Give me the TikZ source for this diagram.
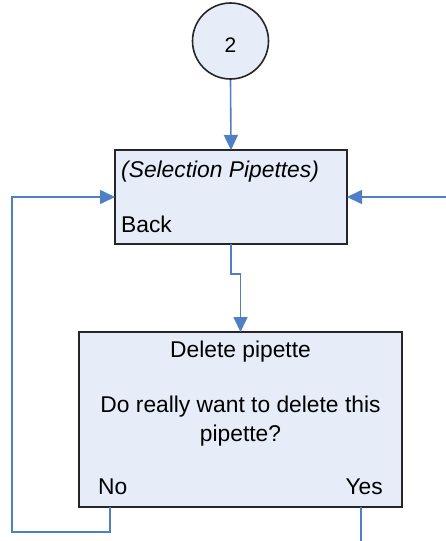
\documentclass[tikz,border=0pt]{standalone}
\usepackage{fontspec}
\setmainfont{Liberation Sans}
\usetikzlibrary{arrows.meta}
\definecolor{boxfill}{HTML}{E6EDF8}
\definecolor{conncol}{HTML}{4F7FC4}
\definecolor{edgecol}{HTML}{262626}
\begin{document}
\begin{tikzpicture}[x=1pt,y=-1pt,
  box/.style={draw=edgecol,line width=1.6pt,fill=boxfill,inner sep=0pt,outer sep=0pt,anchor=north west},
  lbl/.style={inner sep=0pt,font=\fontsize{22.8}{27}\selectfont,text=black},
  line/.style={draw=conncol,line width=1.6pt},
  conn/.style={line,-{Triangle[length=15pt,width=14pt]}}]
\useasboundingbox (0,0) rectangle (445,541);
\node[draw=edgecol,line width=1.6pt,fill=boxfill,circle,minimum size=76pt,inner sep=0pt] (c) at (230.5,41) {};
\node[lbl,anchor=base,font=\fontsize{21}{25}\selectfont] (ctext) at (230.5,52) {2};
\node[box,minimum width=232pt,minimum height=94pt] (sel) at (115,150) {};
\node[lbl,anchor=base west,font=\fontsize{22.8}{27}\selectfont\itshape] (seltitle) at (121,177) {(Selection Pipettes)};
\node[lbl,anchor=base west] (back) at (121,232) {Back};
\node[box,minimum width=323pt,minimum height=175pt] (del) at (79,332) {};
\node[lbl,anchor=base] (deltitle) at (240.5,357) {Delete pipette};
\node[lbl,anchor=base] (q1) at (240.5,412) {Do really want to delete this};
\node[lbl,anchor=base] (q2) at (240.5,441) {pipette?};
\node[lbl,anchor=base west] (no) at (98,494) {No};
\node[lbl,anchor=base east] (yes) at (383,494) {Yes};
\coordinate (nopt) at (110,507);
\coordinate (yespt) at (361,507);
\coordinate (lc) at (12,532);
\coordinate (rin) at (446,197);
\coordinate (yout) at (361,542);
\draw[conn] (c.south) -- (sel.north);
\draw[conn] (sel.south) -- ++(0,30) -| (del.north);
\draw[conn] (nopt) |- (lc) |- (sel.west);
\draw[conn] (rin) -- (sel.east);
\draw[line] (yespt) -- (yout);
\end{tikzpicture}
\end{document}
